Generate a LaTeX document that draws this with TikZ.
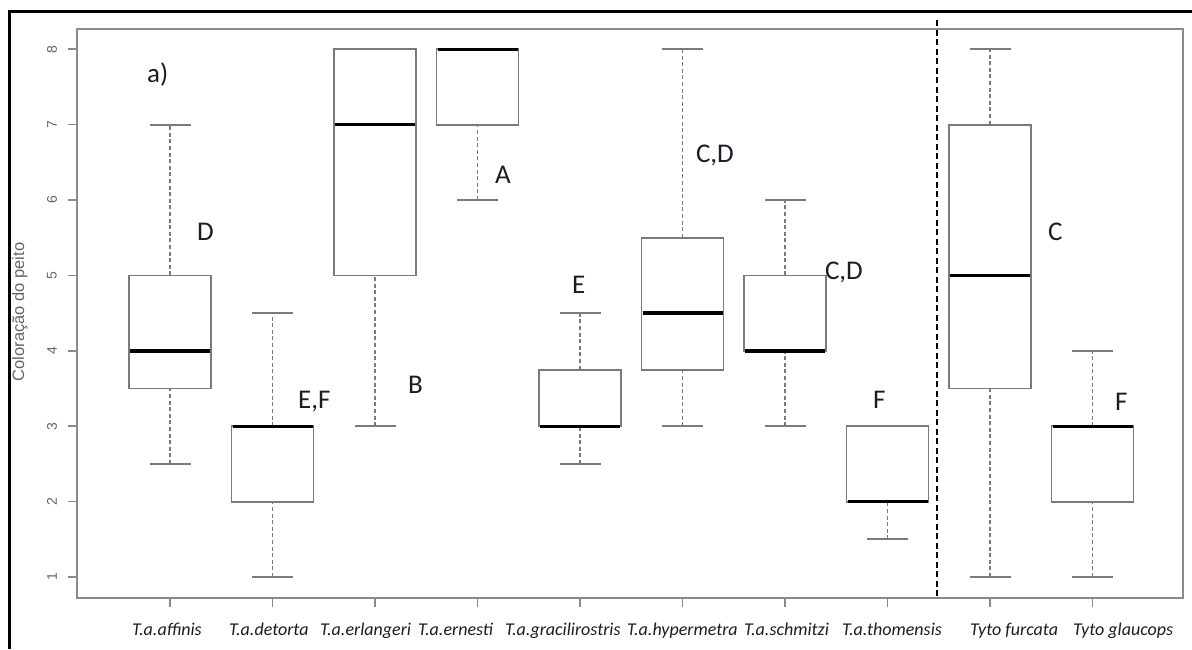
\documentclass[tikz,border=0pt]{standalone}
\usepackage{fontspec}
\setmainfont{Carlito}
\newfontfamily\axisfont{Liberation Sans}
\definecolor{framegray}{HTML}{8A8A8A}
\definecolor{boxgray}{HTML}{7A7A7A}
\definecolor{ticktext}{HTML}{666666}
\definecolor{labeltext}{HTML}{1C1C24}
\begin{document}
\begin{tikzpicture}[x=1pt,y=-1pt,
  plotframe/.style={draw=framegray, line width=2pt},
  boxline/.style={draw=boxgray, line width=1.8pt},
  whisker/.style={draw=boxgray, line width=1.5pt, dash pattern=on 4pt off 2.6pt},
  capline/.style={draw=boxgray, line width=1.8pt},
  medline/.style={draw=black, line width=3.4pt},
  ticktxt/.style={text=ticktext, font=\axisfont\fontsize{14}{16}\selectfont, rotate=90, inner sep=0pt},
  grouptxt/.style={text=labeltext, font=\fontsize{18}{22}\selectfont\itshape, anchor=base west, inner sep=0pt},
  lettertxt/.style={text=labeltext, font=\fontsize{27}{30}\selectfont, anchor=base west, inner sep=0pt},
  separator/.style={draw=black, line width=1.6pt, dash pattern=on 6pt off 3.5pt}]
\useasboundingbox (0,0) rectangle (1192,649);
\fill[white] (0,0) rectangle (1192,649);
% outer black border (top and left edges only)
\draw[line width=3pt] (9,649) -- (9,11.3) -- (1192,11.3);
% plotting frame
\draw[plotframe] (77.3,29.3) rectangle (1183,597.5);
% vertical separator between the two groups of taxa
\draw[separator] (937,20) -- (937,597.5);
% axis title
\node[text=ticktext, font=\axisfont\fontsize{16.5}{18}\selectfont, rotate=90, inner sep=0pt] (ytitle) at (20,312) {Coloração do peito};
% value axis: v maps to pixel row 652.4 - 75.4 v
\begin{scope}[x=1pt, y=75.4pt, shift={(0pt,-652.4pt)}]
  \foreach \v in {1,...,8} {
    \draw[framegray, line width=1.5pt] (68,\v) -- (77.3,\v);
    \node[ticktxt] (tick\v) at (52,\v) {\v};
  }
  % boxes: index / lower whisker / Q1 / median / Q3 / upper whisker
  \foreach \i/\lo/\qa/\md/\qb/\hi in {1/2.5/3.5/4/5/7, 2/1/2/3/3/4.5, 3/3/5/7/8/8,
      4/6/7/8/8/8, 5/2.5/3/3/3.75/4.5, 6/3/3.75/4.5/5.5/8, 7/3/4/4/5/6,
      8/1.5/2/2/3/3, 9/1/3.5/5/7/8, 10/1/2/3/3/4} {
    \pgfmathsetmacro\cx{170+(\i-1)*102.5}
    \draw[whisker] (\cx,\qb) -- (\cx,\hi);
    \draw[whisker] (\cx,\lo) -- (\cx,\qa);
    \draw[capline] (\cx-20.5,\hi) -- (\cx+20.5,\hi);
    \draw[capline] (\cx-20.5,\lo) -- (\cx+20.5,\lo);
    \draw[boxline, fill=white] (\cx-41,\qa) rectangle (\cx+41,\qb);
    \draw[medline] (\cx-40,\md) -- (\cx+40,\md);
  }
\end{scope}
% category ticks
\foreach \i in {1,...,10} {
  \pgfmathsetmacro\cx{170+(\i-1)*102.5}
  \draw[framegray, line width=1.5pt] (\cx,597.5) -- (\cx,607);
}
% category names, set along one baseline
\foreach \i/\lx/\name in {1/132/T.a.affinis, 2/229/T.a.detorta, 3/320/T.a.erlangeri,
    4/418/T.a.ernesti, 5/505/T.a.gracilirostris, 6/627/T.a.hypermetra,
    7/744/T.a.schmitzi, 8/842/T.a.thomensis, 9/970/Tyto furcata, 10/1073/Tyto glaucops} {
  \node[grouptxt] (grp\i) at (\lx,635) {\name};
}
% panel tag and group letters
\node[lettertxt] (panel) at (147,82) {a)};
\node[lettertxt] (ltrA) at (197,240) {D};
\node[lettertxt] (ltrB) at (298,408) {E,F};
\node[lettertxt] (ltrC) at (408,393) {B};
\node[lettertxt] (ltrD) at (495,183) {A};
\node[lettertxt] (ltrE) at (572,293) {E};
\node[lettertxt] (ltrF) at (696,162) {C,D};
\node[lettertxt] (ltrG) at (825,279) {C,D};
\node[lettertxt] (ltrH) at (873,408) {F};
\node[lettertxt] (ltrI) at (1048,240) {C};
\node[lettertxt] (ltrJ) at (1115,410) {F};
\end{tikzpicture}
\end{document}
